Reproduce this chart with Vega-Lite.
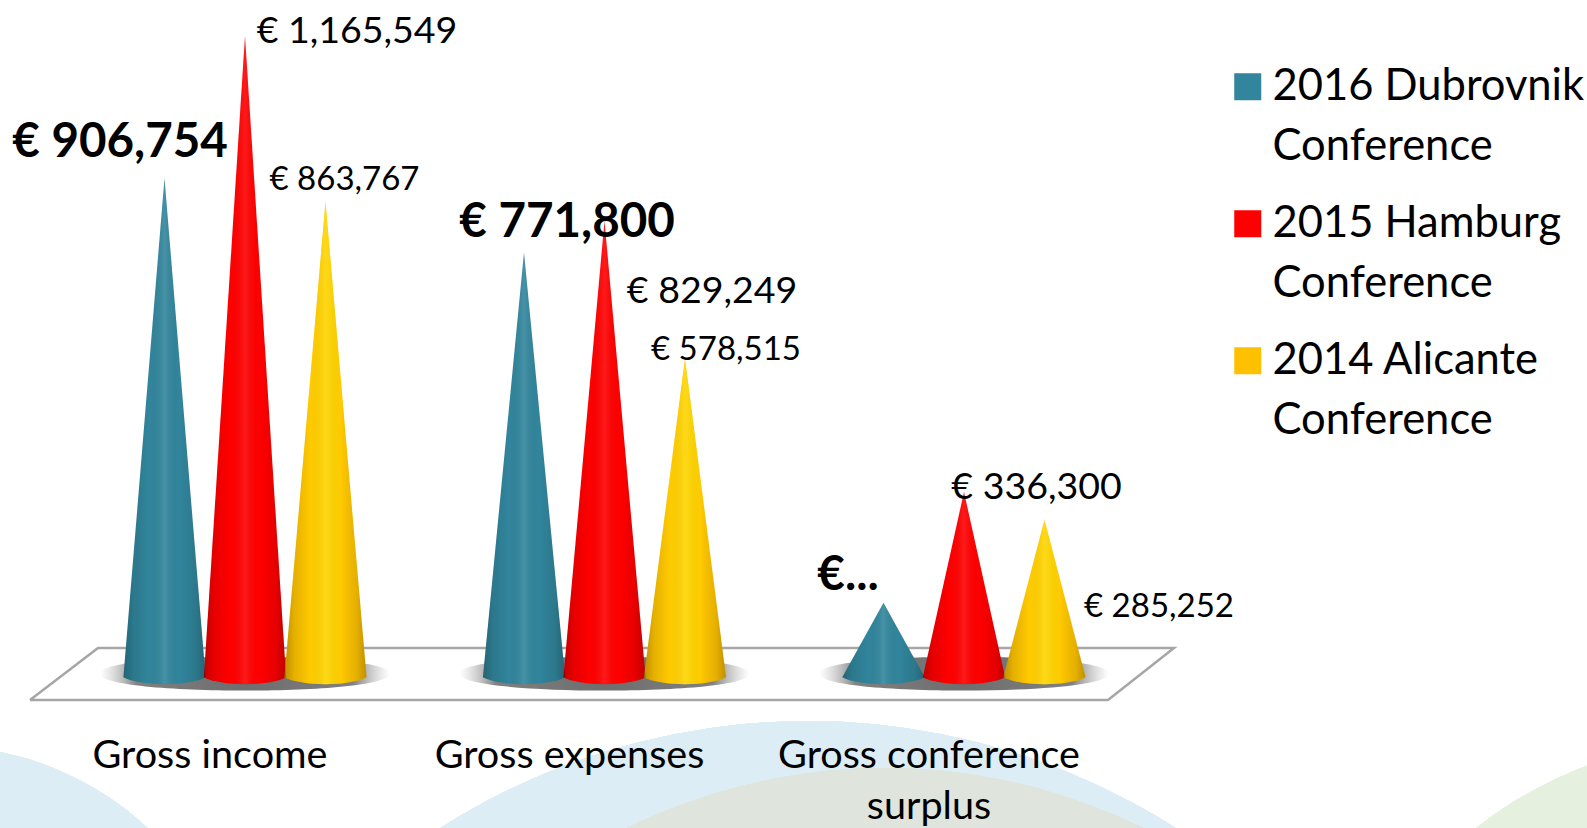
{"$schema":"https://vega.github.io/schema/vega-lite/v6.json","width":1587,"height":738,"autosize":{"type":"none"},"padding":{"left":0,"right":0,"top":0,"bottom":90},"background":"white","config":{"view":{"stroke":null},"font":"Lato","text":{"font":"Lato"}},
"datasets":{"rows":[
{"measure":"Gross income","conference":"2016 Dubrovnik Conference","value":906754,"label":"€ 906,754"},
{"measure":"Gross income","conference":"2015 Hamburg Conference","value":1165549,"label":"€ 1,165,549"},
{"measure":"Gross income","conference":"2014 Alicante Conference","value":863767,"label":"€ 863,767"},
{"measure":"Gross expenses","conference":"2016 Dubrovnik Conference","value":771800,"label":"€ 771,800"},
{"measure":"Gross expenses","conference":"2015 Hamburg Conference","value":829249,"label":"€ 829,249"},
{"measure":"Gross expenses","conference":"2014 Alicante Conference","value":578515,"label":"€ 578,515"},
{"measure":"Gross conference surplus","conference":"2016 Dubrovnik Conference","value":134954,"label":"€..."},
{"measure":"Gross conference surplus","conference":"2015 Hamburg Conference","value":336300,"label":"€ 336,300"},
{"measure":"Gross conference surplus","conference":"2014 Alicante Conference","value":285252,"label":"€ 285,252"}],
"floor":[{"corner":1,"fx":30,"fy":700},{"corner":2,"fx":98,"fy":648},{"corner":3,"fx":1174,"fy":648},{"corner":4,"fx":1108,"fy":700},{"corner":5,"fx":30,"fy":700}]},
"data":{"name":"rows"},
"layer":[
{"data":{"name":"floor"},"encoding":{"x":{"field":"fx","type":"quantitative","axis":null,"scale":{"domain":[0,1587],"nice":false,"zero":false}},"y":{"field":"fy","type":"quantitative","axis":null,"scale":{"domain":[738,0],"nice":false,"zero":false}}},
"layer":[
{"mark":{"type":"point","shape":"circle","filled":true,"opacity":1,"size":369664,"color":"#dcedf5"},"encoding":{"x":{"datum":-60},"y":{"datum":1050}}},
{"mark":{"type":"point","shape":"circle","filled":true,"opacity":1,"size":1882384,"color":"#dcedf5"},"encoding":{"x":{"datum":808},"y":{"datum":1407}}},
{"mark":{"type":"point","shape":"circle","filled":true,"opacity":1,"size":1368900,"color":"#dfe5dc"},"encoding":{"x":{"datum":885},"y":{"datum":1353}}},
{"mark":{"type":"point","shape":"circle","filled":true,"opacity":1,"size":672400,"color":"#e6f0de"},"encoding":{"x":{"datum":1730},"y":{"datum":1150}}},
{"mark":{"type":"line","color":"#a6a6a6","strokeWidth":2.5},"encoding":{"order":{"field":"corner","type":"quantitative"}}}
]},
{"transform":[{"calculate":"indexof(['2016 Dubrovnik Conference','2015 Hamburg Conference','2014 Alicante Conference'],datum.conference)-1","as":"slot"},{"calculate":"indexof(['Gross income','Gross expenses','Gross conference surplus'],datum.measure)","as":"g"},{"calculate":"datum.g+datum.slot*0.2239","as":"u"}],
"encoding":{
"x":{"field":"u","type":"quantitative","axis":null,"scale":{"domain":[-0.6815,3.733],"nice":false,"zero":false}},
"y":{"field":"value","type":"quantitative","axis":null,"scale":{"domain":[-110909,1230909],"nice":false,"zero":false}}},
"layer":[
{"transform":[{"filter":"datum.slot==0"}],"mark":{"type":"point","filled":true,"opacity":1,"size":84100,"shape":"M-1,0C-1,-0.155,1,-0.155,1,0C1,0.155,-1,0.155,-1,0Z","fill":{"gradient":"radial","x1":0.5,"y1":0.5,"r1":0,"x2":0.5,"y2":0.5,"r2":0.5,"stops":[{"offset":0,"color":"rgba(100,100,100,0.95)"},{"offset":0.75,"color":"rgba(115,115,115,0.9)"},{"offset":1,"color":"rgba(170,170,170,0)"}]}},"encoding":{"y":{"datum":6000}}},
{"transform":[{"calculate":"[0,1,2]","as":"verts"},{"flatten":["verts"]},{"calculate":"datum.verts==1?datum.value:0","as":"h"},{"calculate":"datum.g+(datum.slot+(datum.verts-1)*0.51)*0.2239","as":"vx"}],
"encoding":{"x":{"field":"vx","type":"quantitative"},"y":{"field":"h","type":"quantitative","stack":null},"detail":[{"field":"measure"},{"field":"conference"}]},
"layer":[
{"mark":{"type":"area","opacity":1},"encoding":{"color":{"field":"conference","type":"nominal","sort":["2016 Dubrovnik Conference","2015 Hamburg Conference","2014 Alicante Conference"],"scale":{"domain":["2016 Dubrovnik Conference","2015 Hamburg Conference","2014 Alicante Conference"],"range":["#31859c","#ff0000","#ffc000"]},"legend":{"title":null,"orient":"none","legendX":1226,"legendY":65,"symbolType":"square","symbolSize":729,"symbolStrokeWidth":0,"symbolOpacity":1,"labelFontSize":43.5,"labelFont":"Lato","labelColor":"#000","labelLimit":400,"labelOffset":3,"rowPadding":32,"labelExpr":"[slice(datum.label,0,-11),'Conference']","encoding":{"labels":{"lineHeight":{"value":60}}}}}}},
{"transform":[{"filter":"datum.slot==1"}],"mark":{"type":"area","opacity":1,"fill":{"gradient":"linear","x1":0,"y1":0,"x2":1,"y2":0,"stops":[{"offset":0,"color":"rgba(255,225,0,0)"},{"offset":0.3,"color":"rgba(255,225,0,0.3)"},{"offset":0.55,"color":"rgba(255,235,0,0.55)"},{"offset":0.75,"color":"rgba(255,225,0,0.2)"},{"offset":1,"color":"rgba(255,225,0,0)"}]}}},
{"mark":{"type":"area","opacity":1,"fill":{"gradient":"linear","x1":0,"y1":0,"x2":1,"y2":0,"stops":[{"offset":0,"color":"rgba(0,0,0,0.25)"},{"offset":0.12,"color":"rgba(0,0,0,0.1)"},{"offset":0.32,"color":"rgba(0,0,0,0)"},{"offset":0.5,"color":"rgba(255,255,255,0.1)"},{"offset":0.68,"color":"rgba(0,0,0,0)"},{"offset":0.88,"color":"rgba(0,0,0,0.1)"},{"offset":1,"color":"rgba(0,0,0,0.25)"}]}}}
]},
{"mark":{"type":"point","filled":true,"opacity":1,"size":6889,"shape":"M-1,0C-0.6,0.23,0.6,0.23,1,0Z"},"encoding":{"y":{"datum":0},"color":{"field":"conference","type":"nominal","legend":null}}},
{"transform":[{"filter":"datum.slot==1"}],"mark":{"type":"point","filled":true,"opacity":1,"size":6889,"shape":"M-1,0C-0.6,0.23,0.6,0.23,1,0Z","fill":{"gradient":"linear","x1":0,"y1":0,"x2":1,"y2":0,"stops":[{"offset":0,"color":"rgba(255,225,0,0)"},{"offset":0.3,"color":"rgba(255,225,0,0.3)"},{"offset":0.55,"color":"rgba(255,235,0,0.55)"},{"offset":0.75,"color":"rgba(255,225,0,0.2)"},{"offset":1,"color":"rgba(255,225,0,0)"}]}},"encoding":{"y":{"datum":0}}},
{"mark":{"type":"point","filled":true,"opacity":1,"size":6889,"shape":"M-1,0C-0.6,0.23,0.6,0.23,1,0Z","fill":{"gradient":"linear","x1":0,"y1":0,"x2":1,"y2":0,"stops":[{"offset":0,"color":"rgba(0,0,0,0.25)"},{"offset":0.12,"color":"rgba(0,0,0,0.1)"},{"offset":0.32,"color":"rgba(0,0,0,0)"},{"offset":0.5,"color":"rgba(255,255,255,0.1)"},{"offset":0.68,"color":"rgba(0,0,0,0)"},{"offset":0.88,"color":"rgba(0,0,0,0.1)"},{"offset":1,"color":"rgba(0,0,0,0.25)"}]}},"encoding":{"y":{"datum":0}}}
]},
{"transform":[{"calculate":"indexof(['2016 Dubrovnik Conference','2015 Hamburg Conference','2014 Alicante Conference'],datum.conference)-1","as":"slot"}],
"encoding":{
"x":{"field":"measure","type":"nominal","sort":["Gross income","Gross expenses","Gross conference surplus"],"scale":{"range":[65.25,1143.75],"paddingInner":0,"paddingOuter":0},"axis":{"title":null,"ticks":false,"domain":false,"labelAngle":0,"labelOffset":-35,"labelFontSize":39.6,"labelColor":"#000","labelFont":"Lato","labelLimit":600,"labelLineHeight":51,"labelPadding":-2,"zindex":1,"labelExpr":"datum.label=='Gross conference surplus'?['Gross conference','surplus']:datum.label"}},
"y":{"field":"value","type":"quantitative","axis":null,"scale":{"domain":[-110909,1230909],"nice":false,"zero":false}},
"xOffset":{"field":"slot","type":"quantitative","scale":{"domain":[-1.51,1.51],"range":[58.25,301.25],"zero":false,"nice":false}},
"text":{"field":"label"}},
"layer":[
{"transform":[{"filter":"datum.value==906754"}],"mark":{"type":"text","fontSize":47.5,"fontWeight":"bold","dx":-44.5,"dy":-35,"baseline":"middle","color":"#000"}},
{"transform":[{"filter":"datum.value==1165549"}],"mark":{"type":"text","fontSize":37.5,"dx":112,"dy":-4,"baseline":"middle","color":"#000"}},
{"transform":[{"filter":"datum.value==863767"}],"mark":{"type":"text","fontSize":33,"dx":19,"dy":-22,"baseline":"middle","color":"#000"}},
{"transform":[{"filter":"datum.value==771800"}],"mark":{"type":"text","fontSize":47.5,"fontWeight":"bold","dx":43,"dy":-29.5,"baseline":"middle","color":"#000"}},
{"transform":[{"filter":"datum.value==829249"}],"mark":{"type":"text","fontSize":37.5,"dx":107.5,"dy":71,"baseline":"middle","color":"#000"}},
{"transform":[{"filter":"datum.value==578515"}],"mark":{"type":"text","fontSize":33,"dx":41,"dy":-9,"baseline":"middle","color":"#000"}},
{"transform":[{"filter":"datum.value==134954"}],"mark":{"type":"text","fontSize":47.5,"fontWeight":"bold","dx":-35.5,"dy":-27,"baseline":"middle","color":"#000"}},
{"transform":[{"filter":"datum.value==336300"}],"mark":{"type":"text","fontSize":37.5,"dx":72.5,"dy":-4,"baseline":"middle","color":"#000"}},
{"transform":[{"filter":"datum.value==285252"}],"mark":{"type":"text","fontSize":33,"dx":114.5,"dy":87,"baseline":"middle","color":"#000"}}
]}
],
"resolve":{"scale":{"x":"independent","y":"independent"},"axis":{"x":"independent","y":"independent"}}}
